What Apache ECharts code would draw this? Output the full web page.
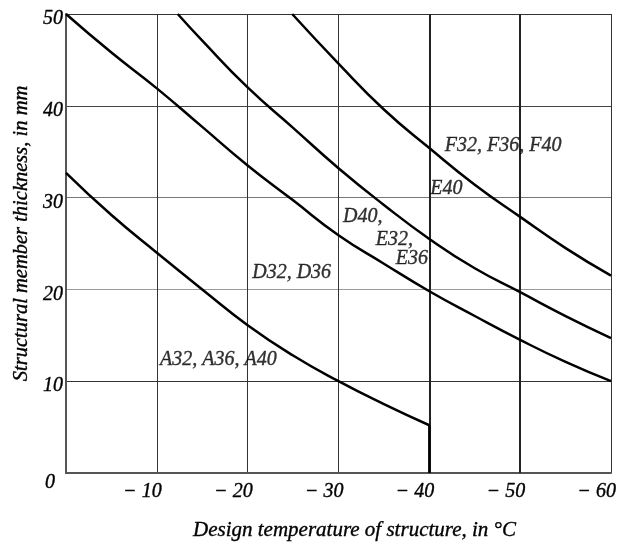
<!DOCTYPE html>
<html>
<head>
<meta charset="utf-8">
<script src="https://cdn.jsdelivr.net/npm/echarts@6/dist/echarts.min.js"></script>
<style>html,body{margin:0;padding:0;background:#fff}#c{width:629px;height:547px}</style>
</head>
<body>
<div id="c"></div>
<script>
// ---- data ----
const xTicks = [0, -10, -20, -30, -40, -50, -60];
const yTicks = [0, 10, 20, 30, 40, 50];

const curveATemp  = [0, -5, -10, -15, -20, -25, -30, -35, -40];
const curveAThick = [32.7, 28.1, 24.0, 20.0, 16.1, 12.8, 10.0, 7.5, 5.2];
const curveADropThick = [5.2, 0];

const curveDTemp  = [0, -5, -10, -15, -20, -25, -30, -35, -40, -45, -50, -55, -60];
const curveDThick = [50, 45.8, 41.9, 37.7, 33.5, 29.7, 25.9, 22.8, 19.8, 17.1, 14.5, 12.1, 10.0];

const curveETemp  = [-12.3, -15, -20, -25, -30, -35, -40, -45, -50, -55, -60];
const curveEThick = [50, 47.1, 42.0, 37.6, 33.2, 29.2, 25.5, 22.3, 19.7, 17.1, 14.7];

const curveFTemp  = [-24.9, -30, -35, -40, -45, -50, -55, -60];
const curveFThick = [50, 44.6, 39.6, 35.4, 31.4, 27.9, 24.5, 21.5];

const labelTexts = ['A32, A36, A40', 'D32, D36', 'D40,', 'E32,', 'E36', 'E40', 'F32, F36, F40'];
const labelTemp  = [-10.35, -20.5, -30.5, -34.1, -36.3, -40.1, -41.7];
const labelThick = [12.3, 21.8, 27.9, 25.4, 23.3, 31.0, 35.7];

const heavyGridTemps = [-40, -50];

const xAxisTitle = 'Design temperature of structure, in °C';
const yAxisTitle = 'Structural member thickness, in mm';

// ---- chart ----
const FONT = '"Liberation Serif", "DejaVu Serif", serif';
const zip = (a, b) => a.map((v, i) => [v, b[i]]);
const curveStyle = { color: '#000', width: 2.5 };
const txt = { fontFamily: FONT, fontStyle: 'italic', color: '#000', textBorderColor: '#000', textBorderWidth: 0.35 };

const chart = echarts.init(document.getElementById('c'), null, { renderer: 'canvas' });

const option = {
  animation: false,
  backgroundColor: '#fff',
  grid: { left: 66, right: 18, top: 14, bottom: 74, containLabel: false, outerBoundsMode: 'none' },
  xAxis: {
    type: 'value', min: -60, max: 0, interval: 10, inverse: true,
    name: xAxisTitle, nameLocation: 'middle', nameGap: 47,
    nameTextStyle: Object.assign({ fontSize: 21, padding: [0, 0, 0, 32] }, txt),
    axisLine: { show: true, lineStyle: { color: '#555', width: 2 } },
    axisTick: { show: false },
    axisLabel: Object.assign({
      fontSize: 20, margin: 9, align: 'right', padding: [0, -5, 0, 0],
      formatter: v => v === 0 ? '' : '\u2212 ' + Math.abs(v)
    }, txt),
    splitLine: { show: true, lineStyle: { color: '#333', width: 1 } }
  },
  yAxis: {
    type: 'value', min: 0, max: 50, interval: 10,
    name: yAxisTitle, nameLocation: 'middle', nameGap: 34, nameRotate: 90,
    nameTextStyle: Object.assign({ fontSize: 20.5, padding: [0, 0, 0, 20] }, txt),
    axisLine: { show: true, lineStyle: { color: '#555', width: 2 } },
    axisTick: { show: false },
    axisLabel: Object.assign({
      fontSize: 20, margin: 3, verticalAlign: 'top', lineHeight: 10,
      formatter: v => v === 0 ? '{z|0}' : String(v),
      rich: { z: Object.assign({ fontSize: 20, lineHeight: 20, padding: [0, 8, 0, 0] }, txt) }
    }, txt),
    splitLine: { show: true, lineStyle: { color: ['#555', '#333', '#999', '#777', '#444', '#333'], width: 1 } }
  },
  series: [
    { type: 'line', data: zip(curveATemp, curveAThick), smooth: 0.5, symbol: 'none', lineStyle: curveStyle, z: 5,
      markLine: {
        silent: true, symbol: 'none', label: { show: false },
        lineStyle: { color: '#222', width: 2, type: 'solid' },
        data: heavyGridTemps.map(t => ({ xAxis: t }))
      }
    },
    { type: 'line', data: curveADropThick.map(v => [curveATemp[curveATemp.length - 1], v]), symbol: 'none', lineStyle: curveStyle, z: 5 },
    { type: 'line', data: zip(curveDTemp, curveDThick), smooth: 0.5, symbol: 'none', lineStyle: curveStyle, z: 5 },
    { type: 'line', data: zip(curveETemp, curveEThick), smooth: 0.5, symbol: 'none', lineStyle: curveStyle, z: 5 },
    { type: 'line', data: zip(curveFTemp, curveFThick), smooth: 0.5, symbol: 'none', lineStyle: curveStyle, z: 5 },
    { type: 'scatter', symbolSize: 0, z: 6, silent: true,
      data: labelTexts.map((t, i) => ({ name: t, value: [labelTemp[i], labelThick[i]] })),
      label: Object.assign({
        show: true, position: [0, 0], align: 'left', verticalAlign: 'middle',
        formatter: p => p.name, fontSize: 20
      }, txt)
    }
  ]
};
chart.setOption(option);
</script>
</body>
</html>
